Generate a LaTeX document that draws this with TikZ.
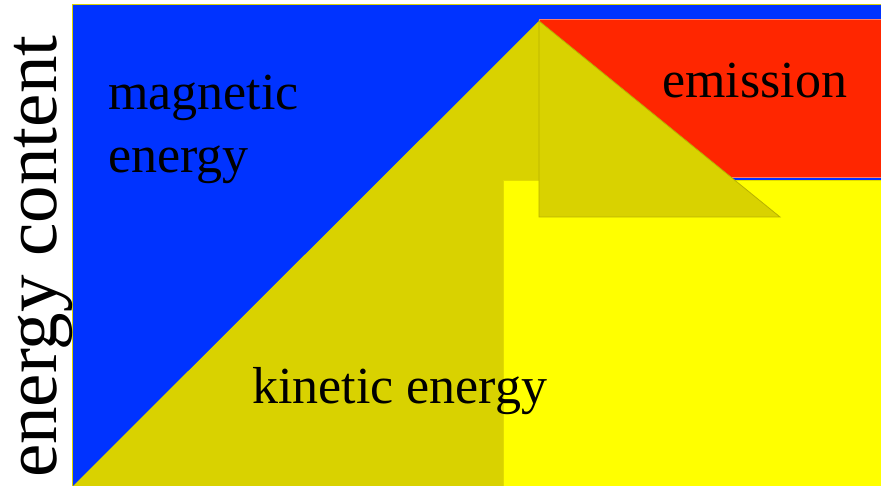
\documentclass[tikz,border=0pt]{standalone}
\usepackage{fontspec}
\setmainfont{Liberation Serif}
\definecolor{magblue}{RGB}{0, 51, 255}
\definecolor{kinolive}{RGB}{217, 210, 0}
\definecolor{emisred}{RGB}{255, 38, 0}
\definecolor{hotyellow}{RGB}{255, 255, 0}

\begin{document}
\begin{tikzpicture}[
        x=1pt, y=-1pt,
        label/.style={inner sep=0pt, font=\fontsize{52}{63}\selectfont, align=left},
        axislabel/.style={inner sep=0pt, font=\fontsize{75}{80}\selectfont, rotate=90, text height=0.6em}
    ]
        \useasboundingbox (0,0) rectangle (881,486);

        % Regions
        \filldraw[fill=magblue, draw=kinolive, line width=1pt] (72,5) rectangle (881,486);
        \fill[kinolive] (73,486) -- (539,21) -- (539,486) -- cycle;
        \filldraw[fill=hotyellow, draw=kinolive!80!hotyellow, line width=0.5pt] (503,180) rectangle (881,486);
        \filldraw[fill=emisred, draw=emisred!60!white, line width=1pt] (539,20) rectangle (881,178);
        \filldraw[fill=kinolive, draw=kinolive!85!black, line width=0.8pt] (539,21) -- (780,217) -- (539,217) -- cycle;

        % Labels
        \node[label, anchor=base west] (mag) at (108,173) {magnetic\\energy};
        \node[label, anchor=base west] (kin) at (252,403) {kinetic energy};
        \node[label, anchor=base west] (emis) at (662,98) {emission};
        \node[axislabel, anchor=base west] (axis) at (56,478) {energy content};
    \end{tikzpicture}
\end{document}
